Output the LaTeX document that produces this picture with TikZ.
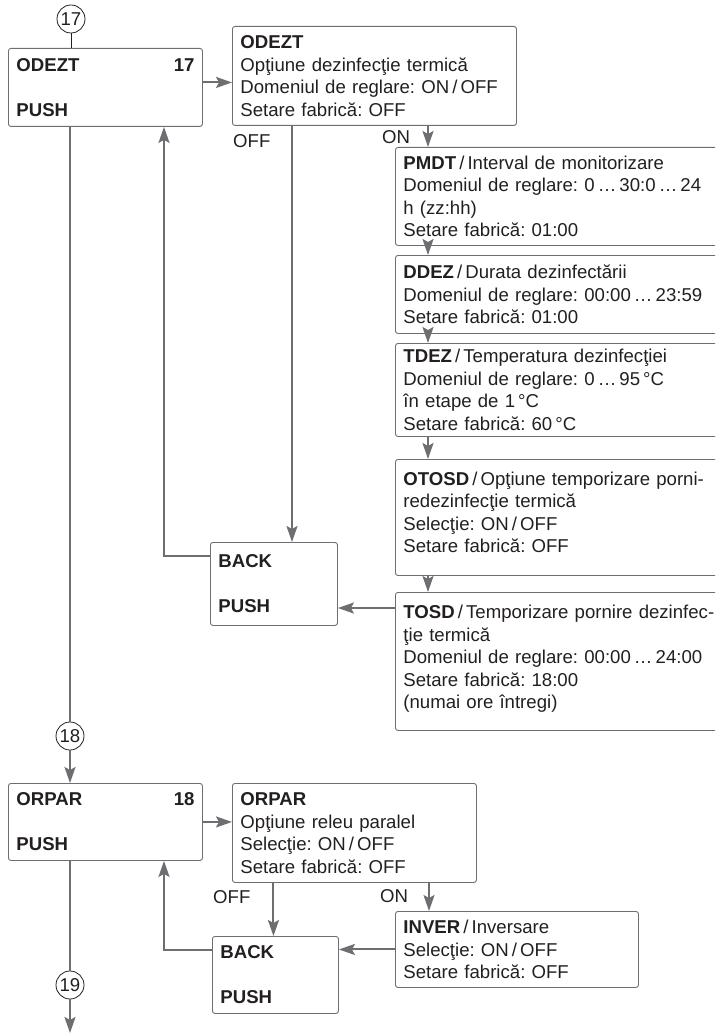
\documentclass[tikz,border=0pt]{standalone}
\usepackage{fontspec}
\setmainfont{Liberation Sans}
\usetikzlibrary{arrows.meta}

\definecolor{flowgray}{HTML}{6D6E71}
\definecolor{inkblack}{HTML}{231F20}

\begin{document}
\frenchspacing
\begin{tikzpicture}[x=1pt, y=-1pt,
    font=\fontsize{18.6}{22.5}\selectfont, text=inkblack,
    box/.style={draw=flowgray, line width=0.9pt, rounded corners=2.5pt, anchor=north west,
      align=left, inner xsep=8pt, inner ysep=0pt},
    wide/.style={box, text width=330pt},
    flow/.style={draw=flowgray, line width=2pt},
    arr/.style={flow, -{Stealth[length=16pt, width=11pt, inset=3pt]}},
    num/.style={circle, draw=inkblack, line width=0.8pt, inner sep=0pt, minimum size=28pt},
    tag/.style={anchor=west, inner sep=0pt}]

    \clip (0,0) rectangle (715,1035);

    % meniu 17
    \node[num] (c17) at (71,19) {17};
    \node[box, text width=178pt, minimum height=78pt] (odezt) at (8,48)
      {\textbf{ODEZT}\hfill\textbf{17}\\ \mbox{}\\ \textbf{PUSH}};
    \node[box, text width=268pt, minimum height=99pt] (odeztd) at (232,26)
      {\textbf{ODEZT}\\ Opţiune dezinfecţie termică\\ Domeniul de reglare: ON\,/\,OFF\\ Setare fabrică: OFF};

    % submeniu ON
    \node[wide, minimum height=98pt] (pmdt) at (395,147)
      {\textbf{PMDT}\,/\,Interval de monitorizare\\ Domeniul de reglare: 0\,…\,30:0\,…\,24\\ h (zz:hh)\\ Setare fabrică: 01:00};
    \node[wide, minimum height=78pt] (ddez) at (395,255)
      {\textbf{DDEZ}\,/\,Durata dezinfectării\\ Domeniul de reglare: 00:00\,…\,23:59\\ Setare fabrică: 01:00};
    \node[wide, minimum height=93pt] (tdez) at (395,343)
      {\textbf{TDEZ}\,/\,Temperatura dezinfecţiei\\ Domeniul de reglare: 0\,…\,95\,°C\\ în etape de 1\,°C\\ Setare fabrică: 60\,°C};
    \node[wide, minimum height=116pt] (otosd) at (395,459)
      {\textbf{OTOSD}\,/\,Opţiune temporizare porni-\\ redezinfecţie termică\\ Selecţie: ON\,/\,OFF\\ Setare fabrică: OFF\\[-12pt]\mbox{}};
    \node[wide, minimum height=138pt] (tosd) at (395,592)
      {\textbf{TOSD}\,/\,Temporizare pornire dezinfec-\\ ţie termică\\ Domeniul de reglare: 00:00\,…\,24:00\\ Setare fabrică: 18:00\\ (numai ore întregi)\\[-14pt]\mbox{}};
    \node[box, text width=111pt, minimum height=83pt] (back1) at (210,542)
      {\textbf{BACK}\\ \mbox{}\\ \textbf{PUSH}};

    \node[tag] (off1) at (233,141) {OFF};
    \node[tag] (on1) at (382,137) {ON};

    % meniu 18
    \node[num] (c18) at (70,736) {18};
    \node[box, text width=178pt, minimum height=77pt] (orpar) at (8,783)
      {\textbf{ORPAR}\hfill\textbf{18}\\ \mbox{}\\ \textbf{PUSH}};
    \node[box, text width=228pt, minimum height=99pt] (orpard) at (232,783)
      {\textbf{ORPAR}\\ Opţiune releu paralel\\ Selecţie: ON\,/\,OFF\\ Setare fabrică: OFF};
    \node[box, text width=227pt, minimum height=76pt] (inver) at (395,911)
      {\textbf{INVER}\,/\,Inversare\\ Selecţie: ON\,/\,OFF\\ Setare fabrică: OFF};
    \node[box, text width=110pt, minimum height=77pt] (back2) at (212,936)
      {\textbf{BACK}\\ \mbox{}\\ \textbf{PUSH}};
    \node[num] (c19) at (70,985) {19};
    \coordinate (end19) at (70,1033);

    \node[tag] (off2) at (213,897) {OFF};
    \node[tag] (on2) at (380,896) {ON};

    % legaturi 17
    \draw[inkblack, line width=0.8pt] (c17.south) -- (c17.south |- odezt.north);
    \draw[arr] ([yshift=5pt]odezt.east) -- ([yshift=5pt]odezt.east -| odeztd.west);
    \coordinate (onx) at ([xshift=33pt]pmdt.north west);
    \draw[arr] (onx |- odeztd.south) -- (onx);
    \draw[arr] (onx |- pmdt.south) -- (onx |- ddez.north);
    \draw[arr] (onx |- ddez.south) -- (onx |- tdez.north);
    \draw[arr] (onx |- tdez.south) -- (onx |- otosd.north);
    \draw[arr] (onx |- otosd.south) -- (onx |- tosd.north);
    \coordinate (offx) at ([xshift=60pt]odeztd.south west);
    \draw[arr] (offx) -- (offx |- back1.north);
    \coordinate (tosdx) at ([yshift=-16pt]tosd.north west);
    \draw[arr] (tosdx) -- (tosdx -| back1.east);
    \draw[arr] ([yshift=-14pt]back1.north west) -| ([xshift=156pt]odezt.south west);
    \draw[flow] (c18 |- odezt.south) -- (c18.north);

    % legaturi 18
    \draw[arr] (c18.south) -- (c18 |- orpar.north);
    \draw[arr] (orpar.east) -- (orpar.east -| orpard.west);
    \coordinate (onx2) at ([xshift=34pt]inver.north west);
    \draw[arr] (onx2 |- orpard.south) -- (onx2);
    \draw[arr] ([xshift=-2pt]back2.north |- orpard.south) -- ([xshift=-2pt]back2.north);
    \draw[arr] (inver.west) -- (inver.west -| back2.east);
    \draw[arr] ([yshift=-14pt]back2.north west) -| ([xshift=156pt]orpar.south west);
    \draw[flow] (c19 |- orpar.south) -- (c19.north);
    \draw[arr] (c19.south) -- (end19);
\end{tikzpicture}
\end{document}
